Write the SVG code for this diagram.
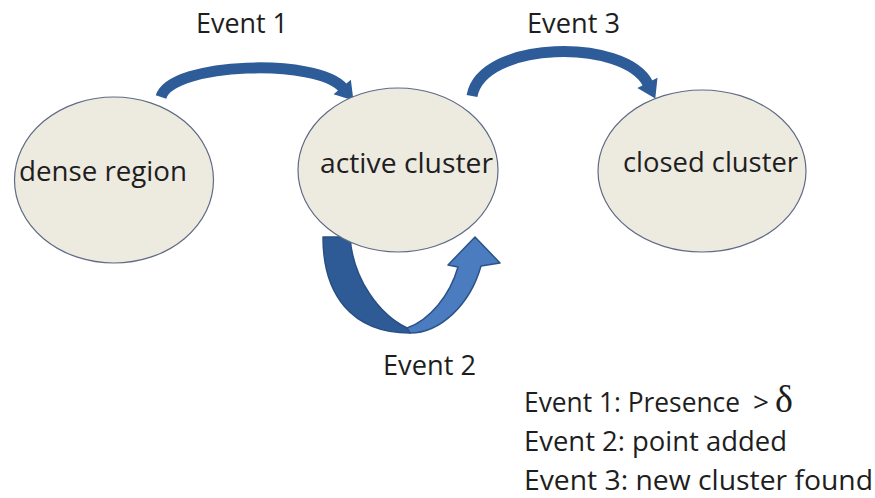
<svg xmlns="http://www.w3.org/2000/svg" width="875" height="498" viewBox="0 0 875 498">
  <style>
    .node ellipse { fill: #EDEAE0; stroke: #5F6B85; stroke-width: 1.2; }
    text { font-family: "Open Sans", "Liberation Sans", sans-serif; font-size: 27px; fill: #1E1E1E; }
    .legend { font-size: 28px; }
    .arc { fill: none; stroke: #2E5C98; stroke-width: 11; }
    .dark { fill: #2E5B95; stroke: #284F84; stroke-width: 1.5; stroke-linejoin: round; }
    .light { fill: #4A7CBF; stroke: #2B5388; stroke-width: 1.5; stroke-linejoin: round; }
  </style>
  <defs>
    <marker id="head" markerUnits="userSpaceOnUse" orient="auto" refX="0" refY="0" markerWidth="30" markerHeight="30" viewBox="-2 -12 20 24" overflow="visible">
      <path d="M -1 -9 L 13 0 L -1 9 Z" fill="#2E5C98"/>
    </marker>
  </defs>
  <rect width="875" height="498" fill="#FFFFFF"/>

  <g id="connectors">
    <path id="event1-arrow" class="arc" d="M 161 97 C 172 62, 318 58, 343 88" marker-end="url(#head)"/>
    <path id="event3-arrow" class="arc" d="M 472 96 C 482 40, 625 38, 648 84" marker-end="url(#head)"/>
    <g id="event2-arrow">
      <path class="dark" d="M 323 237 L 350 237 C 353 280, 380 315, 407 328 L 410 333 C 352 333, 323 295, 323 237 Z"/>
      <path class="light" d="M 410 333 C 440 333, 470 305, 481 266 L 500 263 L 475 237 L 448 265 L 458 267 C 450 295, 430 320, 407 328 Z"/>
    </g>
    <text id="label-event1" x="196" y="33" textLength="92" lengthAdjust="spacingAndGlyphs">Event 1</text>
    <text id="label-event2" x="383" y="375" textLength="93" lengthAdjust="spacingAndGlyphs">Event 2</text>
    <text id="label-event3" x="527" y="33" textLength="93" lengthAdjust="spacingAndGlyphs">Event 3</text>
  </g>

  <g id="node-dense-region" class="node">
    <ellipse cx="114" cy="180" rx="99.5" ry="83"/>
    <text x="19" y="181" textLength="168" lengthAdjust="spacingAndGlyphs">dense region</text>
  </g>
  <g id="node-active-cluster" class="node">
    <ellipse cx="398" cy="170" rx="100" ry="82"/>
    <text x="320" y="173" textLength="173" lengthAdjust="spacingAndGlyphs">active cluster</text>
  </g>
  <g id="node-closed-cluster" class="node">
    <ellipse cx="702" cy="171" rx="104" ry="81"/>
    <text x="623" y="172" textLength="175" lengthAdjust="spacingAndGlyphs">closed cluster</text>
  </g>

  <g id="legend">
    <text class="legend" x="524" y="412"><tspan textLength="216" lengthAdjust="spacingAndGlyphs">Event 1: Presence</tspan><tspan x="753">&gt;</tspan><tspan x="775" font-family="'Liberation Serif', serif" font-size="38">δ</tspan></text>
    <text class="legend" x="524" y="451" textLength="263" lengthAdjust="spacingAndGlyphs">Event 2: point added</text>
    <text class="legend" x="524" y="490" textLength="349" lengthAdjust="spacingAndGlyphs">Event 3: new cluster found</text>
  </g>
</svg>
